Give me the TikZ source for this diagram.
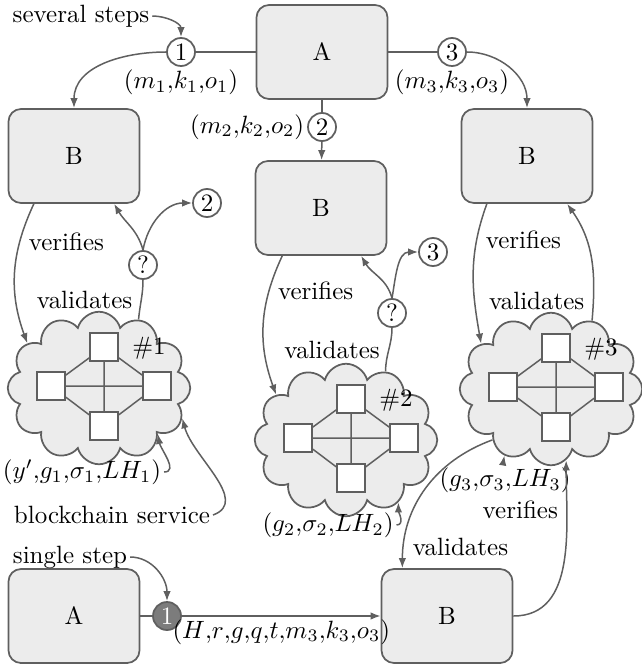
\documentclass[tikz,border=0pt]{standalone}
\usepackage{amsmath}
\usepackage{tikz}
\usetikzlibrary{positioning,shapes.symbols,arrows.meta}
\definecolor{linecolor}{HTML}{5f5f5f}
\definecolor{boxcolor}{HTML}{ececec}
\definecolor{stepcolor}{HTML}{7c7c7c}

\begin{document}
\begin{tikzpicture}[
    x=0.4pt, y=0.4pt,
    >={Latex[length=4pt,width=3pt]},
    line/.style={draw=linecolor, line width=0.6pt},
    party/.style={rectangle, draw=linecolor, fill=boxcolor,
                  rounded corners=5pt, line width=0.7pt,
                  minimum width=52.4pt, minimum height=37.6pt},
    stepnum/.style={circle, draw=linecolor, fill=white, line width=0.7pt,
                    inner sep=0.5pt, minimum size=11.2pt},
    stepfill/.style={stepnum, fill=stepcolor, text=white},
    chain/.style={cloud, cloud puffs=12, draw=linecolor, fill=boxcolor,
                  line width=0.7pt, minimum width=73pt, minimum height=61pt},
    peer/.style={rectangle, draw=linecolor, fill=white, line width=0.7pt,
                 minimum size=11.2pt, inner sep=0pt},
    note/.style={inner sep=1pt}
]
\useasboundingbox (0,0) rectangle (641,-665);

% several steps
\node[party] (A1) at (322,-52) {A};
\node[party] (B1) at (74,-156) {B};
\node[party] (B2) at (321,-208) {B};
\node[party] (B3) at (527,-156) {B};

\node[stepnum] (n1) at (181,-52) {1};
\node[stepnum] (n2) at (322,-127) {2};
\node[stepnum] (n3) at (452,-52) {3};
\node[stepnum] (q1) at (143,-265) {?};
\node[stepnum] (t2) at (207,-203) {2};
\node[stepnum] (q2) at (392,-313) {?};
\node[stepnum] (t3) at (433,-252) {3};

\node[note, below=0pt of n1] (l1) {$(m_1{,}k_1{,}o_1)$};
\node[note, left=0pt of n2] (l2) {$(m_2{,}k_2{,}o_2)$};
\node[note, below=0pt of n3] (l3) {$(m_3{,}k_3{,}o_3)$};
\node[note] (several) at (81,-16) {several steps};

% blockchain networks
\foreach \i/\x/\y in {1/99/-388, 2/346/-440, 3/551/-389} {
  \node[chain] (c\i) at (\x,\y) {};
  \node[peer] (c\i-n) at (\x+5,\y+41) {};
  \node[peer] (c\i-w) at (\x-48,\y+2) {};
  \node[peer] (c\i-e) at (\x+58,\y+2) {};
  \node[peer] (c\i-s) at (\x+5,\y-38) {};
  \draw[line] (c\i-n) -- (c\i-w) (c\i-n) -- (c\i-e)
              (c\i-w) -- (c\i-s) (c\i-e) -- (c\i-s)
              (c\i-w) -- (c\i-e) (c\i-n) -- (c\i-s);
  \node at (\x+50,\y+40) {\#\i};
}

\node[note] (g1) at (82,-472) {$(y'{,}g_1{,}\sigma_1{,}LH_1)$};
\node[note] (bs) at (112,-515) {blockchain service};
\node[note] (g2) at (328,-525) {$(g_2{,}\sigma_2{,}LH_2)$};
\node[note] (g3) at (505,-480) {$(g_3{,}\sigma_3{,}LH_3)$};

% single step
\node[party] (A0) at (74,-616) {A};
\node[party] (B0) at (447,-616) {B};
\node[stepfill] (f1) at (167,-616) {1};
\node[note] (single) at (70,-557) {single step};

\draw[line] (A1) -- (n1);
\draw[line, ->] (n1) to[out=180, in=90] (B1);
\draw[line] (A1) -- (n3);
\draw[line, ->] (n3) to[out=0, in=90] (B3);
\draw[line] (A1) -- (n2);
\draw[line, ->] (n2) -- (B2);
\draw[line, ->] (several) to[out=0, in=90] (n1);

\draw[line, ->] (B1.230) to[out=245, in=110]
    node[pos=0.27, anchor=west] {verifies} (c1.148);
\draw[line] (c1.60) to[out=85, in=-90] node[left] {validates} (q1);
\draw[line, ->] (q1.north) to[out=105, in=-60] (B1.310);
\draw[line, ->] (q1.north) to[out=80, in=180] (t2);

\draw[line, ->] (B2.231) to[out=245, in=110]
    node[pos=0.25, anchor=west] {verifies} (c2.147);
\draw[line] (c2.60) to[out=90, in=-90] node[left] {validates} (q2);
\draw[line, ->] (q2.north) to[out=105, in=-60] (B2.310);
\draw[line, ->] (q2.north) to[out=80, in=180] (t3);

\draw[line, ->] (B3.230) to[out=250, in=100]
    node[pos=0.25, anchor=west] {verifies} (c3.147);
\draw[line, ->] (c3.59) to[out=85, in=-55]
    node[pos=0.15, left] {validates} (B3.310);

\draw[line, ->] (g1.east) to[out=0, in=-80] (c1.322);
\draw[line, ->] (bs.east) to[out=20, in=-75] (c1.340);
\draw[line, ->] (g2.east) to[out=0, in=-90] (c2.310);
\draw[line, ->] (g3.100) to[out=90, in=-100] (c3.235);

\draw[line, ->] (single) to[out=0, in=90] (f1);
\draw[line] (A0) -- (f1);
\draw[line, ->] (f1) -- node[below, note] {$(H{,}r{,}g{,}q{,}t{,}m_3{,}k_3{,}o_3)$} (B0);
\draw[line, ->] (B0) to[out=0, in=-90] node[pos=0.76, left] {verifies} (c3.282);
\draw[line, ->] (c3.221) to[out=200, in=90]
    node[pos=0.88, right] {validates} (B0.133);
\end{tikzpicture}
\end{document}
